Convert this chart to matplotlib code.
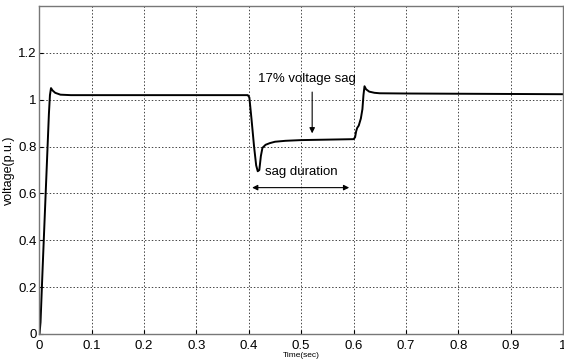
import matplotlib.pyplot as plt

plt.rcParams['font.family'] = ['Liberation Sans', 'DejaVu Sans']

# voltage trace
time = [0.0, 0.002, 0.006, 0.010, 0.014, 0.018, 0.020, 0.022, 0.025, 0.030,
        0.040, 0.060, 0.100, 0.200, 0.300, 0.398, 0.401, 0.405, 0.410,
        0.414, 0.417, 0.420, 0.423, 0.426, 0.432, 0.440, 0.450, 0.470,
        0.500, 0.550, 0.600, 0.603, 0.605, 0.607, 0.610, 0.614, 0.617,
        0.619, 0.621, 0.624, 0.630, 0.640, 0.650, 0.700, 0.800, 0.900, 1.0]
voltage = [0.0, 0.05, 0.28, 0.50, 0.72, 0.94, 1.02, 1.05, 1.04, 1.03,
           1.022, 1.02, 1.02, 1.02, 1.02, 1.02, 1.01, 0.92, 0.80,
           0.72, 0.695, 0.70, 0.76, 0.795, 0.808, 0.815, 0.821, 0.825,
           0.828, 0.830, 0.832, 0.84, 0.865, 0.88, 0.89, 0.92, 0.96,
           1.02, 1.058, 1.045, 1.035, 1.03, 1.028, 1.027, 1.026, 1.025, 1.024]

xticks = [0, 0.1, 0.2, 0.3, 0.4, 0.5, 0.6, 0.7, 0.8, 0.9, 1]
xtick_labels = ['0', '0.1', '0.2', '0.3', '0.4', '0.5', '0.6', '0.7', '0.8', '0.9', '1']
yticks = [0, 0.2, 0.4, 0.6, 0.8, 1.0, 1.2]
ytick_labels = ['0', '0.2', '0.4', '0.6', '0.8', '1', '1.2']

fig = plt.figure(figsize=(5.64, 3.63), dpi=100)
ax = fig.add_axes([0.070, 0.080, 0.928, 0.903])

ax.plot(time, voltage, color='black', linewidth=1.4)

ax.set_xlim(0, 1)
ax.set_ylim(0, 1.4)
ax.set_xticks(xticks)
ax.set_xticklabels(xtick_labels)
ax.set_yticks(yticks)
ax.set_yticklabels(ytick_labels)
ax.tick_params(direction='in', length=3, labelsize=9.5, colors='black')
ax.tick_params(axis='x', pad=4)
ax.tick_params(axis='y', pad=2)
ax.grid(True, linestyle=(0, (1.5, 2)), color='#444444', linewidth=0.7)
for s in ax.spines.values():
    s.set_color('#777777')
    s.set_linewidth(1.0)

ax.set_ylabel('voltage(p.u.)', fontsize=9, labelpad=2)
ax.set_xlabel('Time(sec)', fontsize=6, labelpad=0)

# annotations
ax.annotate('', xy=(0.521, 0.845), xytext=(0.521, 1.045),
            arrowprops=dict(arrowstyle='-|>', color='black', lw=0.8,
                            mutation_scale=8))
ax.text(0.511, 1.09, '17% voltage sag', ha='center', va='center', fontsize=9.5)
ax.annotate('', xy=(0.401, 0.625), xytext=(0.597, 0.625),
            arrowprops=dict(arrowstyle='<|-|>', color='black', lw=0.8,
                            mutation_scale=8))
ax.text(0.4995, 0.69, 'sag duration', ha='center', va='center', fontsize=9.5)

fig.savefig('out.png', dpi=100)
